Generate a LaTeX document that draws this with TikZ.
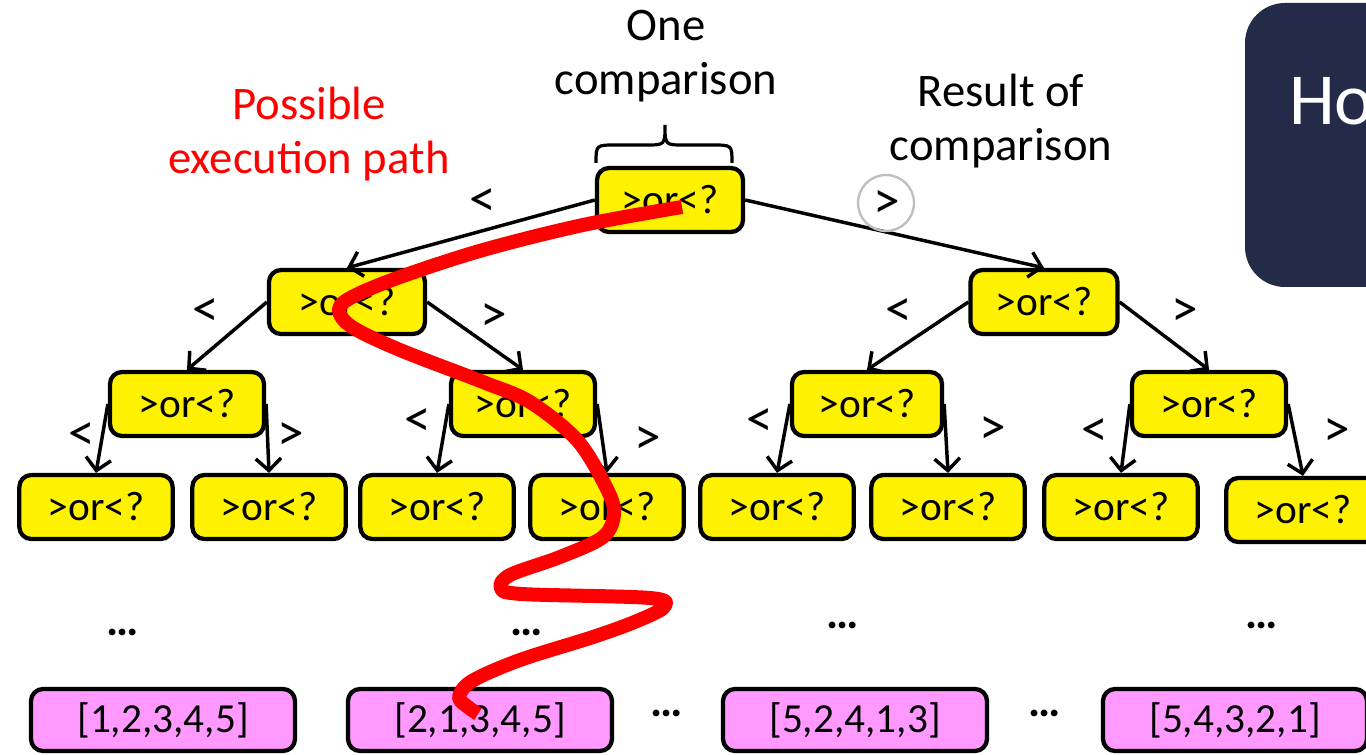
\documentclass[tikz,border=0pt]{standalone}
\usepackage{fontspec}
\setmainfont{Carlito}
\usetikzlibrary{arrows.meta}
\definecolor{slate}{RGB}{35,43,72}
\definecolor{pinkfill}{RGB}{255,153,255}
\definecolor{ringgray}{RGB}{191,191,191}
\begin{document}
\begin{tikzpicture}[x=0.75pt,y=-0.75pt,
  qbox/.style={draw=black, fill=yellow, line width=3.2pt, rounded corners=9pt,
    inner sep=0pt, minimum height=48pt, font=\fontsize{31}{37}\selectfont},
  leaf/.style={draw=black, fill=pinkfill, line width=3.2pt, rounded corners=9pt,
    inner sep=0pt, minimum height=46.5pt, minimum width=198pt,
    font=\fontsize{31}{37}\selectfont},
  branch/.style={draw=black, line width=2.6pt,
    -{Straight Barb[length=9pt,width=19pt,line width=2.6pt]}},
  sym/.style={font=\fontsize{40}{44}\selectfont, inner sep=0pt},
  lbl/.style={font=\fontsize{35}{41}\selectfont, align=center, inner sep=0pt},
  dots/.style={font=\fontsize{34}{37}\selectfont\bfseries, inner sep=0pt}]
\useasboundingbox (0,0) rectangle (1366,755);
\clip (0,0) rectangle (1366,755);

% title panel at the right
\fill[slate, rounded corners=30pt] (1245,3) rectangle (1460,287);
\node[anchor=base west, text=white, inner sep=0pt, font=\fontsize{55}{60}\selectfont] (panel) at (1289,125) {Ho};

% captions
\node[lbl] (one) at (666,56) {One\\comparison};
\node[lbl, text=red] (possible) at (309,134) {Possible\\execution path};
\node[lbl] (result) at (1001,121) {Result of\\comparison};

% decision tree
\node[qbox, minimum width=109.5pt] (t) at (670,200) {>or<?};
\node[qbox, minimum width=117pt] (l) at (347,302) {>or<?};
\node[qbox, minimum width=110.25pt] (r) at (1044,302) {>or<?};
\node[qbox, minimum width=115.5pt] (a) at (187,404) {>or<?};
\node[qbox, minimum width=108pt] (b) at (523,404) {>or<?};
\node[qbox, minimum width=112.5pt] (c) at (867,404) {>or<?};
\node[qbox, minimum width=115.5pt] (d) at (1209,404) {>or<?};
\node[qbox, minimum width=115pt] (a1) at (96,507) {>or<?};
\node[qbox, minimum width=115pt] (a2) at (269,507) {>or<?};
\node[qbox, minimum width=115pt] (b1) at (437,507) {>or<?};
\node[qbox, minimum width=115pt] (b2) at (607,507) {>or<?};
\node[qbox, minimum width=115pt] (c1) at (777,507) {>or<?};
\node[qbox, minimum width=115pt] (c2) at (948,507) {>or<?};
\node[qbox, minimum width=115pt] (d1) at (1121,507) {>or<?};
\node[qbox, minimum width=115pt] (d2) at (1303,510) {>or<?};

% brace over the root comparison
\draw[line width=2.4pt] (596,163) .. controls (596,145) .. (616,145) -- (646,145)
  .. controls (665,145) .. (665,125) .. controls (665,145) .. (684,145) -- (712,145)
  .. controls (732,145) .. (732,163);

% branches
\draw[branch] (t.west) -- (l.north);
\draw[branch] (t.east) -- (r.north);
\draw[branch] (l.west) -- (a.north);
\draw[branch] (l.east) -- (b.north);
\draw[branch] (r.west) -- (c.north);
\draw[branch] (r.east) -- (d.north);
\draw[branch] (a.west) -- (a1.north);
\draw[branch] (a.east) -- (a2.north);
\draw[branch] (b.west) -- (b1.north);
\draw[branch] (b.east) -- (b2.north);
\draw[branch] (c.west) -- (c1.north);
\draw[branch] (c.east) -- (c2.north);
\draw[branch] (d.west) -- (d1.north);
\draw[branch] (d.east) -- (d2.north);

% branch outcomes
\node[sym] (tlt) at (483,203) {<};
\node[sym] (tgt) at (887,205) {>};
\draw[ringgray, line width=1.8pt] (886,203) circle[radius=21pt];
\node[sym] (llt) at (206,313) {<};
\node[sym] (lgt) at (494,318) {>};
\node[sym] (rlt) at (899,313) {<};
\node[sym] (rgt) at (1185,313) {>};
\node[sym] (alt) at (82,437) {<};
\node[sym] (agt) at (291,437) {>};
\node[sym] (blt) at (418,423) {<};
\node[sym] (bgt) at (648,441) {>};
\node[sym] (clt) at (760,423) {<};
\node[sym] (cgt) at (993,431) {>};
\node[sym] (dlt) at (1095,433) {<};
\node[sym] (dgt) at (1337,433) {>};

% elided levels
\node[dots] (e1) at (123,632) {…};
\node[dots] (e2) at (527,632) {…};
\node[dots] (e3) at (843,625) {…};
\node[dots] (e4) at (1262,625) {…};

% outcomes (permutations)
\node[leaf] (p1) at (163,720) {[1,2,3,4,5]};
\node[leaf] (p2) at (480,720) {[2,1,3,4,5]};
\node[leaf] (p3) at (855,720) {[5,2,4,1,3]};
\node[leaf] (p4) at (1235,720) {[5,4,3,2,1]};
\node[dots] (e5) at (667,713) {…};
\node[dots] (e6) at (1045,713) {…};

% one execution path, drawn freehand
\draw[red, line width=10.5pt, line join=round]
  plot[smooth, tension=0.55] coordinates {
    (682,207) (583,225) (483,250) (400,277) (352,297) (339,310) (352,327)
    (400,350) (483,382) (530,402) (577,440) (606,487) (614,513) (603,537)
    (560,557) (510,575) (501,588) (522,594) (650,598) (664,607) (637,621)
    (593,637) (520,660) (472,681) (459,697) (468,707) (478,714)};
\end{tikzpicture}
\end{document}
